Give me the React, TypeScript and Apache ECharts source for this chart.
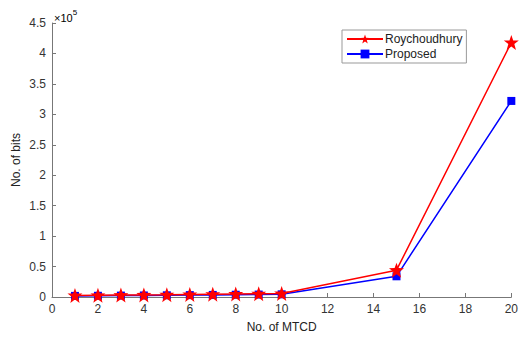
import React, { useEffect, useRef } from "react";
import * as echarts from "echarts";

const mtcd = [1, 2, 3, 4, 5, 6, 7, 8, 9, 10, 15, 20];
const roychoudhury = [2500, 2800, 3100, 3400, 3700, 4100, 4500, 4900, 5300, 5800, 44000, 418000];
const proposed = [1800, 2000, 2300, 2500, 2800, 3100, 3400, 3700, 4000, 4400, 34000, 322000];
const seriesNames = ["Roychoudhury", "Proposed"];

const FONT = "Liberation Sans, Arial, sans-serif";
const STAR =
  "path://M50,0 L62.5,35 L100,36.2 L70,58.8 L81,97 L50,75 L19,97 L30,58.8 L0,36.2 L37.5,35 Z";

export default function App() {
  const ref = useRef<HTMLDivElement>(null);
  useEffect(() => {
    if (!ref.current) return;
    const chart = echarts.init(ref.current, undefined, { renderer: "svg" });
    const pair = (ys: number[]) => mtcd.map((x, i) => [x, ys[i]]);
    chart.setOption({
      animation: false,
      backgroundColor: "#ffffff",
      textStyle: { fontFamily: FONT },
      grid: { left: 52, right: 8, top: 23, bottom: 38 },
      legend: {
        orient: "vertical",
        left: 342,
        top: 30,
        width: 117,
        padding: [3, 4, 3, 4],
        itemGap: 3,
        itemWidth: 36,
        itemHeight: 11,
        borderColor: "#999999",
        borderWidth: 1,
        backgroundColor: "#ffffff",
        data: seriesNames,
        textStyle: { fontFamily: FONT, fontSize: 12, color: "#222222", padding: [0, 0, 0, -3] },
      },
      xAxis: {
        type: "value",
        min: 0,
        max: 20,
        interval: 2,
        name: "No. of MTCD",
        nameLocation: "middle",
        nameGap: 24,
        nameTextStyle: { fontFamily: FONT, fontSize: 12, color: "#222222" },
        axisLine: { show: true, lineStyle: { color: "#777777", width: 1 } },
        axisTick: { show: true, inside: true, length: 4, lineStyle: { color: "#777777" } },
        axisLabel: { fontFamily: FONT, fontSize: 12, color: "#333333", margin: 6 },
        splitLine: { show: false },
      },
      yAxis: {
        type: "value",
        min: 0,
        max: 450000,
        interval: 50000,
        name: "No. of bits",
        nameLocation: "middle",
        nameGap: 30,
        nameMoveOverlap: false,
        nameRotate: 90,
        nameTextStyle: { fontFamily: FONT, fontSize: 12, color: "#222222" },
        axisLine: { show: true, lineStyle: { color: "#777777", width: 1 } },
        axisTick: { show: true, inside: true, length: 4, lineStyle: { color: "#777777" } },
        axisLabel: {
          fontFamily: FONT,
          fontSize: 12,
          color: "#333333",
          margin: 6,
          formatter: (v: number) => String(Math.round((v / 100000) * 10) / 10),
        },
        splitLine: { show: false },
      },
      graphic: [
        {
          type: "text",
          left: 54,
          top: 8,
          style: {
            text: "{a|×10}{b|5}",
            rich: {
              a: { fontFamily: FONT, fontSize: 11, color: "#333333", padding: [4, 0, 0, 0] },
              b: { fontFamily: FONT, fontSize: 8, color: "#333333", verticalAlign: "top" },
            },
          },
        },
      ],
      series: [
        {
          name: "Proposed",
          type: "line",
          data: pair(proposed),
          symbol: "rect",
          symbolSize: 8,
          itemStyle: { color: "#0000ff" },
          lineStyle: { color: "#0000ff", width: 1.5 },
          z: 2,
        },
        {
          name: "Roychoudhury",
          type: "line",
          data: pair(roychoudhury),
          symbol: STAR,
          symbolSize: 15,
          itemStyle: { color: "#ff0000" },
          lineStyle: { color: "#ff0000", width: 1.5 },
          z: 3,
        },
      ],
    });
    return () => chart.dispose();
  }, []);
  return (
    <div
      ref={ref}
      style={{ position: "fixed", left: 0, top: 0, width: 521, height: 338 }}
    />
  );
}
